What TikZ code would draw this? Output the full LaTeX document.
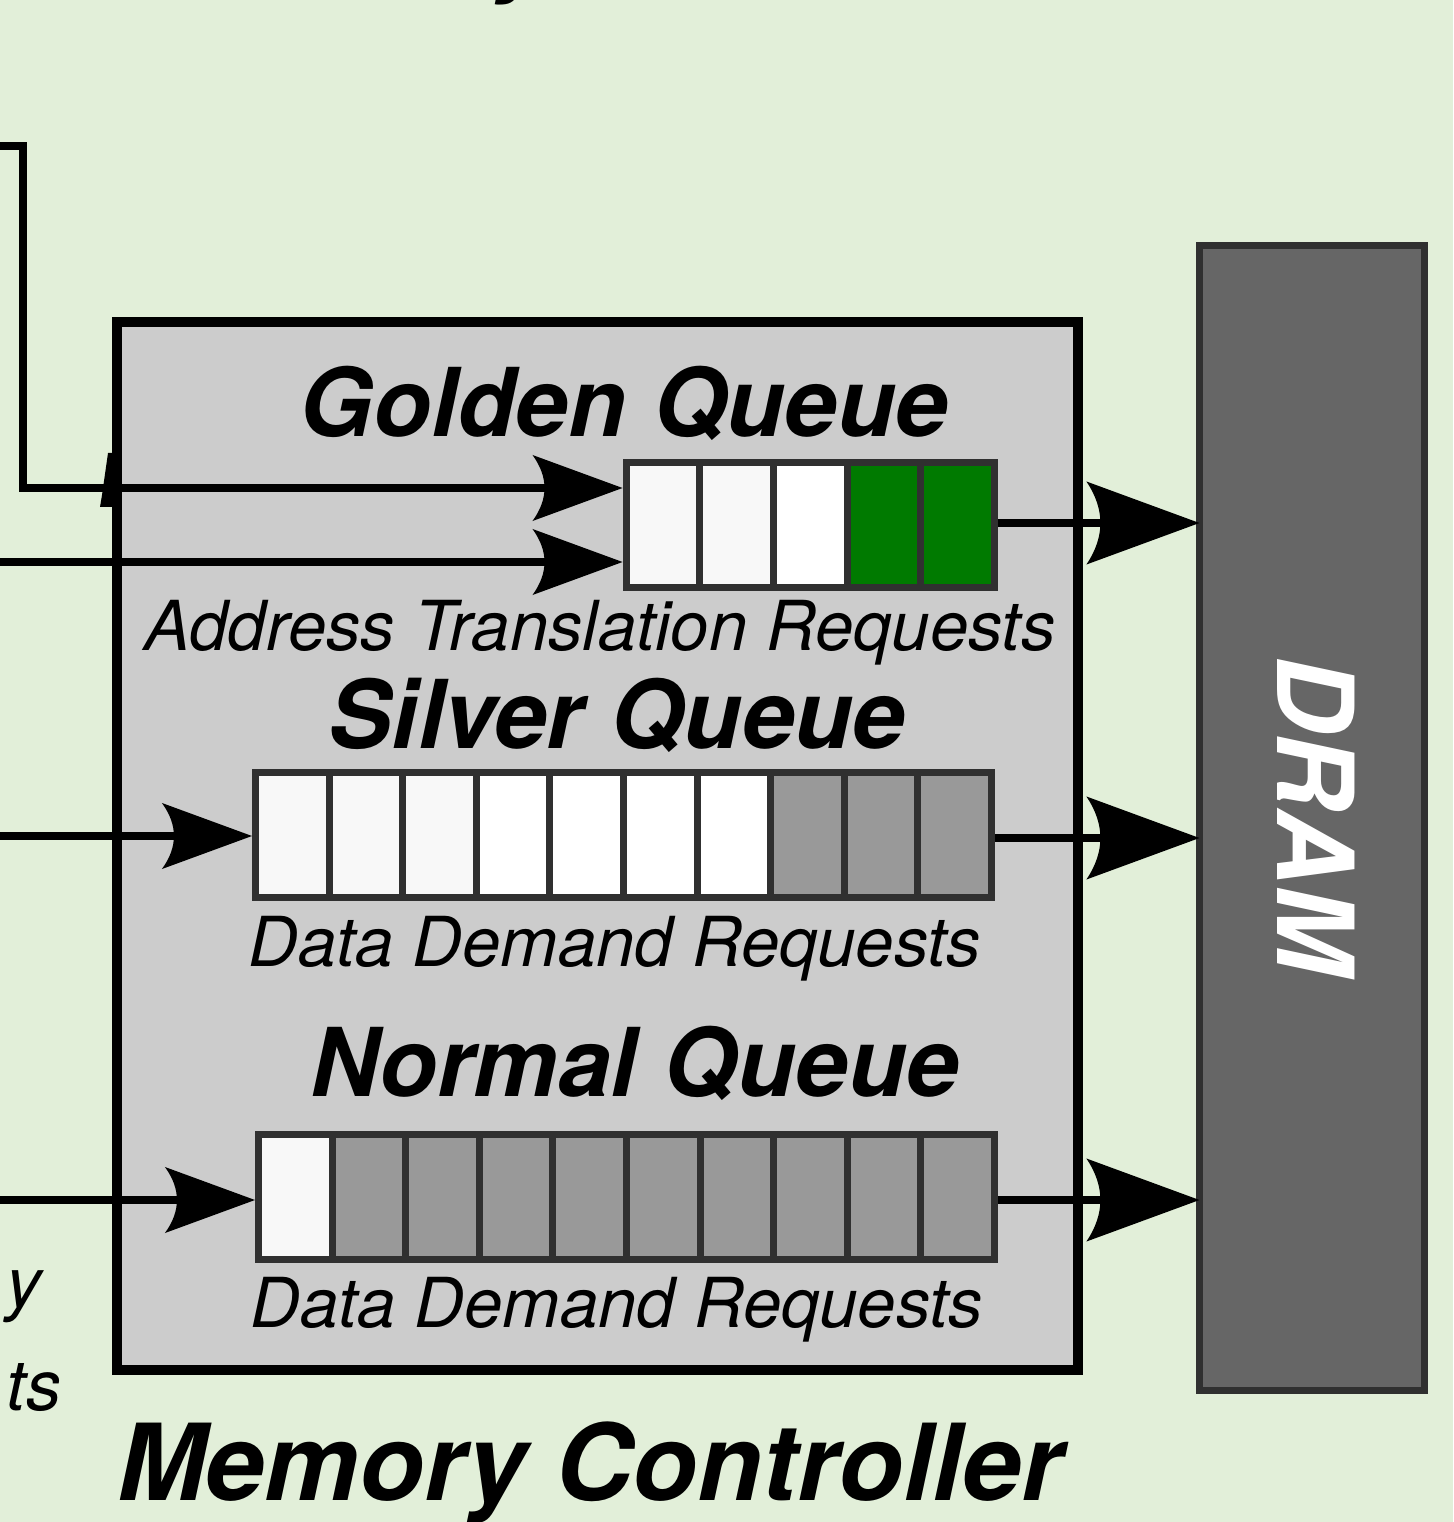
\documentclass[tikz,border=0pt]{standalone}
\usepackage{fontspec}
\setmainfont{TeX Gyre Heros}
\usetikzlibrary{arrows.meta}
\definecolor{bgc}{HTML}{E2EFD9}
\definecolor{mcfill}{HTML}{CCCCCC}
\definecolor{qborder}{HTML}{303030}
\definecolor{cwa}{HTML}{F8F8F8}
\definecolor{cwb}{HTML}{FFFFFF}
\definecolor{cgreen}{HTML}{007A00}
\definecolor{cgray}{HTML}{999999}
\definecolor{dramfill}{HTML}{666666}
\pgfdeclarearrow{
  name = CBk,
  defaults = {length = 0.9cm, width = 0.66cm, inset = 0.12cm},
  parameters = {\the\pgfarrowlength,\the\pgfarrowwidth,\the\pgfarrowinset},
  setup code = {
    \pgfarrowssettipend{0pt}
    \pgfarrowssetbackend{-\pgfarrowlength}
    \pgfarrowssetlineend{\dimexpr-\pgfarrowlength+1.5\pgfarrowinset\relax}
    \pgfarrowsupperhullpoint{-\pgfarrowlength}{.5\pgfarrowwidth}
    \pgfarrowshullpoint{0pt}{0pt}
    \pgfarrowssavethe\pgfarrowlength
    \pgfarrowssavethe\pgfarrowwidth
    \pgfarrowssavethe\pgfarrowinset
  },
  drawing code = {
    \pgfpathmoveto{\pgfqpoint{0pt}{0pt}}
    \pgfpathlineto{\pgfpoint{-\pgfarrowlength}{.5\pgfarrowwidth}}
    \pgfpathquadraticcurveto{\pgfpoint{-\pgfarrowlength+2\pgfarrowinset}{0pt}}{\pgfpoint{-\pgfarrowlength}{-.5\pgfarrowwidth}}
    \pgfpathclose
    \pgfusepathqfill
  }
}
\begin{document}
\begin{tikzpicture}[x=0.01cm, y=-0.01cm,
  cell/.style={draw=qborder, line width=0.07cm, minimum width=0.736cm, minimum height=1.25cm, inner sep=0pt},
  mcbox/.style={draw=black, fill=mcfill, line width=0.1cm, minimum width=9.61cm, minimum height=10.48cm, inner sep=0pt},
  drambox/.style={draw=qborder, fill=dramfill, line width=0.07cm, minimum width=2.25cm, minimum height=11.45cm, inner sep=0pt, outer sep=0pt},
  conn/.style={line width=0.08cm, -{CBk}},
  connbig/.style={line width=0.08cm, -{CBk[length=1.13cm,width=0.83cm,inset=0.14cm]}},
  title/.style={font=\bfseries\itshape\fontsize{27pt}{30pt}\selectfont, inner sep=0pt, anchor=base},
  bigtitle/.style={font=\bfseries\itshape\fontsize{30.2pt}{33pt}\selectfont, inner sep=0pt, anchor=base},
  sub/.style={font=\itshape\fontsize{19.6pt}{22pt}\selectfont, inner sep=0pt, anchor=base},
  side/.style={font=\itshape\fontsize{20pt}{24pt}\selectfont, inner sep=0pt, anchor=base east},
]
\fill[bgc] (0,0) rectangle (1453,1522);
\useasboundingbox (0,0) rectangle (1453,1522);

% cropped text fragment at the top
\node[font=\bfseries\itshape\fontsize{26.7pt}{30pt}\selectfont, inner sep=0pt, anchor=base west] (topfrag) at (495,-15) {y};

% memory controller
\node[mcbox] (mc) at (597.5,846) {};
\fill (108,453) -- (112,453) -- (112,507) -- (100,507) -- (102,495) -- cycle;

% DRAM
\node[drambox] (dram) at (1312,818) {};
\node[font=\bfseries\itshape\fontsize{30.2pt}{34pt}\selectfont, text=white, rotate=-90, inner sep=0pt] (dramlbl) at (1316,815) {DRAM};

% queues
\foreach \c [count=\i] in {cwa,cwa,cwb,cgreen,cgreen}
  \node[cell, fill=\c] (g\i) at ({626+73.7*(\i-0.5)},525) {};
\foreach \c [count=\i] in {cwa,cwa,cwa,cwb,cwb,cwb,cwb,cgray,cgray,cgray}
  \node[cell, fill=\c] (s\i) at ({255.5+73.6*(\i-0.5)},835) {};
\foreach \c [count=\i] in {cwa,cgray,cgray,cgray,cgray,cgray,cgray,cgray,cgray,cgray}
  \node[cell, fill=\c] (n\i) at ({258.5+73.6*(\i-0.5)},1197) {};

% texts
\node[title] (gq) at (624,437) {Golden Queue};
\node[sub] (gqs) at (600,650) {Address Translation Requests};
\node[title] (sq) at (617,748) {Silver Queue};
\node[sub] (sqs) at (615,966) {Data Demand Requests};
\node[title] (nq) at (635,1096) {Normal Queue};
\node[sub] (nqs) at (617,1327) {Data Demand Requests};
\node[bigtitle] (mct) at (590,1500) {Memory Controller};
\node[side] (lfa) at (42,1307) {y};
\node[side] (lfb) at (62,1410) {ts};

% input connectors
\coordinate (inA) at (-10,146);
\coordinate (bendA) at (23,488);
\coordinate (inB) at (-10,562);
\coordinate (inC) at (-10,836);
\coordinate (inD) at (-10,1200);
\draw[conn] (inA) -| (bendA) -- (g1.west |- 0,488);
\draw[conn] (inB) -- (g1.west |- 0,562);
\draw[conn] (inC) -- (s1.west |- 0,836);
\draw[conn] (inD) -- (n1.west |- 0,1200);

% output connectors
\draw[connbig] (g5.east |- 0,523) -- (dram.west |- 0,523);
\draw[connbig] (s10.east |- 0,838) -- (dram.west |- 0,838);
\draw[connbig] (n10.east |- 0,1200) -- (dram.west |- 0,1200);
\end{tikzpicture}
\end{document}
